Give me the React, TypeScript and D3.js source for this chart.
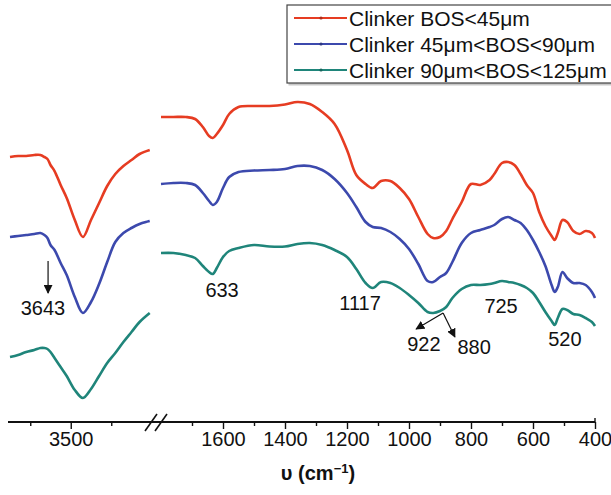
import React, { useEffect, useRef } from 'react';
import * as d3 from 'd3';

// wavenumbers (cm-1) of the two axis segments
const leftWave = [3800, 3760, 3720, 3680, 3650, 3630, 3615, 3600, 3580, 3550, 3520, 3480, 3440, 3400, 3360, 3320, 3280, 3240, 3200, 3160, 3110];
const rightWave = [
  1800, 1760, 1720, 1690, 1665, 1645, 1633, 1620, 1600, 1580, 1550, 1500, 1450, 1400, 1360, 1320, 1280, 1240, 1200,
  1170, 1140, 1117, 1090, 1060, 1030, 1000, 970, 940, 922, 900, 880, 860, 830, 800, 770, 740, 725, 700, 680, 660,
  640, 620, 600, 580, 560, 540, 530, 520, 505, 490, 470, 450, 430, 410, 400,
];

// transmittance, arbitrary units (curves are offset)
const redLeft = [273, 274, 274, 275, 275, 273, 271, 265, 259, 245, 232, 210, 193, 210, 227, 244, 256, 264, 270, 276, 280];
const blueLeft = [193, 194, 195, 196, 197, 195, 192, 185, 180, 167, 155, 133, 117, 128, 146, 168, 188, 197, 202, 206, 209];
const tealLeft = [73, 75, 78, 80, 82, 82, 81, 78, 72, 63, 54, 40, 32, 41, 54, 67, 77, 88, 98, 108, 117];

const redRight = [
  313, 313, 313, 311, 303, 294, 292, 296, 305, 316, 323, 324, 324, 325.5, 328, 326, 318, 306, 280, 255, 246, 242,
  249, 249, 242, 231, 213, 196, 192, 193, 199, 211, 228, 246, 245, 250, 256, 267, 268, 265, 256, 245, 237, 218,
  204, 194, 190, 197, 210, 208, 199, 196, 199, 197, 192,
];
const blueRight = [
  246, 247, 247, 245, 237, 229, 225, 228, 242, 253, 258, 259.5, 260, 261, 264, 264, 260, 251, 237, 223, 208, 203,
  202, 198, 191, 181, 166, 149, 148, 153, 157, 168, 187, 197, 200, 203, 205, 211, 213, 210, 207, 200, 190, 178,
  164, 145, 138, 143, 158, 152, 147, 147, 145, 138, 132,
];
const tealRight = [
  177, 177, 175, 172, 164, 158, 156, 162, 173, 179, 182, 185, 183.5, 183.5, 186, 187, 185, 180, 173, 161, 147, 142,
  148, 147, 142, 135, 127, 118, 117, 119, 123, 132, 141, 145, 145, 146, 147, 149, 148, 147, 145, 142, 137, 128,
  118, 109, 105, 112, 121, 120, 116, 115, 112, 108, 104,
];

const seriesNames = ['Clinker BOS<45\u03bcm', 'Clinker 45\u03bcm<BOS<90\u03bcm', 'Clinker 90\u03bcm<BOS<125\u03bcm'];
const seriesColors = ['#e63c22', '#3c49ad', '#1f857a'];

const leftMajor = [3500];
const leftMinor = [3700, 3300];
const rightMajor = [1600, 1400, 1200, 1000, 800, 600, 400];
const rightMinor = [1700, 1500, 1300, 1100, 900, 700, 500];

// peak labels: text, segment, wavenumber, level
const peakLabels = [
  { text: '3643', side: 'L', w: 3637, t: 115 },
  { text: '633', side: 'R', w: 1603, t: 133 },
  { text: '1117', side: 'R', w: 1158, t: 120 },
  { text: '725', side: 'R', w: 703, t: 117 },
  { text: '922', side: 'R', w: 952, t: 79 },
  { text: '880', side: 'R', w: 790, t: 76 },
  { text: '520', side: 'R', w: 497, t: 84 },
];
const peakArrows = [
  { side: 'L', w0: 3612, t0: 169, w1: 3612, t1: 137 },
  { side: 'R', w0: 890, t0: 117, w1: 977, t1: 101 },
  { side: 'R', w0: 890, t0: 117, w1: 852, t1: 93 },
];

const FONT = '"Liberation Sans", Arial, Helvetica, sans-serif';

const App = () => {
  const svgRef = useRef(null);

  useEffect(() => {
    const svg = d3.select(svgRef.current);
    svg.selectAll('*').remove();

    const axisY = 422;
    const xLeft = d3.scaleLinear().domain([3800, 3100]).range([10, 151.75]);
    const xRight = d3.scaleLinear().domain([1800, 400]).range([161, 595]);
    const y = d3.scaleLinear().domain([0, 330]).range([430, 100]);

    const defs = svg.append('defs');
    defs.append('marker')
      .attr('id', 'arrowhead')
      .attr('viewBox', '0 0 10 10')
      .attr('refX', 9)
      .attr('refY', 5)
      .attr('markerWidth', 9)
      .attr('markerHeight', 9)
      .attr('markerUnits', 'userSpaceOnUse')
      .attr('orient', 'auto')
      .append('path')
      .attr('d', 'M0,0 L10,5 L0,10 Z')
      .attr('fill', '#111');

    // spectra
    const lineL = d3.line().x((d) => xLeft(d[0])).y((d) => y(d[1])).curve(d3.curveCatmullRom.alpha(0.5));
    const lineR = d3.line().x((d) => xRight(d[0])).y((d) => y(d[1])).curve(d3.curveCatmullRom.alpha(0.5));
    const lefts = [redLeft, blueLeft, tealLeft];
    const rights = [redRight, blueRight, tealRight];

    lefts.forEach((vals, i) => {
      svg.append('path')
        .attr('d', lineL(leftWave.map((w, j) => [w, vals[j]])))
        .attr('fill', 'none')
        .attr('stroke', seriesColors[i])
        .attr('stroke-width', 2.6)
        .attr('stroke-linejoin', 'round');
    });
    rights.forEach((vals, i) => {
      svg.append('path')
        .attr('d', lineR(rightWave.map((w, j) => [w, vals[j]])))
        .attr('fill', 'none')
        .attr('stroke', seriesColors[i])
        .attr('stroke-width', 2.6)
        .attr('stroke-linejoin', 'round');
    });

    // axes
    const styleAxis = (g) => {
      g.select('.domain').remove();
      g.selectAll('line').attr('stroke', '#111').attr('stroke-width', 1.4);
      g.selectAll('text').style('font-family', FONT).style('font-size', '20px').attr('fill', '#111');
    };
    svg.append('g').attr('transform', `translate(0,${axisY})`)
      .call(d3.axisBottom(xLeft).tickValues(leftMajor).tickSize(7).tickPadding(3).tickFormat(d3.format('d')))
      .call(styleAxis);
    svg.append('g').attr('transform', `translate(0,${axisY})`)
      .call(d3.axisBottom(xLeft).tickValues(leftMinor).tickSize(4).tickFormat(() => ''))
      .call(styleAxis);
    svg.append('g').attr('transform', `translate(0,${axisY})`)
      .call(d3.axisBottom(xRight).tickValues(rightMajor).tickSize(7).tickPadding(3).tickFormat(d3.format('d')))
      .call(styleAxis);
    svg.append('g').attr('transform', `translate(0,${axisY})`)
      .call(d3.axisBottom(xRight).tickValues(rightMinor).tickSize(4).tickFormat(() => ''))
      .call(styleAxis);

    svg.append('line')
      .attr('x1', 8).attr('x2', xRight(400))
      .attr('y1', axisY).attr('y2', axisY)
      .attr('stroke', '#111').attr('stroke-width', 1.8);
    svg.append('line')
      .attr('x1', xRight(400)).attr('x2', xRight(400))
      .attr('y1', axisY - 4).attr('y2', axisY)
      .attr('stroke', '#111').attr('stroke-width', 1.4);

    // axis break
    [0, 10].forEach((dx) => {
      svg.append('line')
        .attr('x1', 145 + dx).attr('y1', axisY + 9)
        .attr('x2', 157 + dx).attr('y2', axisY - 8)
        .attr('stroke', '#111').attr('stroke-width', 1.6);
    });

    // axis title
    const title = svg.append('text')
      .attr('x', 318).attr('y', 480)
      .attr('text-anchor', 'middle')
      .style('font-family', FONT).style('font-size', '20px').style('font-weight', 'bold')
      .attr('fill', '#111');
    title.append('tspan').text('\u03c5 (cm');
    title.append('tspan').attr('dy', -7).style('font-size', '13px').text('\u22121');
    title.append('tspan').attr('dy', 7).text(')');

    // peak labels and arrows
    const px = (side, w) => (side === 'L' ? xLeft(w) : xRight(w));
    peakArrows.forEach((a) => {
      svg.append('line')
        .attr('x1', px(a.side, a.w0)).attr('y1', y(a.t0))
        .attr('x2', px(a.side, a.w1)).attr('y2', y(a.t1))
        .attr('stroke', '#111').attr('stroke-width', 1.2)
        .attr('marker-end', 'url(#arrowhead)');
    });
    peakLabels.forEach((p) => {
      svg.append('text')
        .attr('x', px(p.side, p.w)).attr('y', y(p.t))
        .attr('text-anchor', 'middle')
        .style('font-family', FONT).style('font-size', '20px')
        .attr('fill', '#111')
        .text(p.text);
    });

    // legend
    const lg = svg.append('g').attr('transform', 'translate(287,5)');
    lg.append('rect')
      .attr('x', 1.5).attr('y', 1.5).attr('width', 330).attr('height', 79)
      .attr('fill', '#c8c8c8');
    lg.append('rect')
      .attr('x', 0).attr('y', 0).attr('width', 330).attr('height', 78)
      .attr('fill', '#fff').attr('stroke', '#444').attr('stroke-width', 1.2);
    seriesNames.forEach((name, i) => {
      const ry = 13 + i * 26;
      lg.append('line')
        .attr('x1', 7).attr('x2', 60).attr('y1', ry).attr('y2', ry)
        .attr('stroke', seriesColors[i]).attr('stroke-width', 2.2);
      lg.append('circle')
        .attr('cx', 34).attr('cy', ry).attr('r', 1.6)
        .attr('fill', d3.color(seriesColors[i]).darker(0.8));
      lg.append('text')
        .attr('x', 62).attr('y', ry + 7.5)
        .style('font-family', FONT).style('font-size', '21px')
        .attr('fill', '#111')
        .text(name);
    });
  }, []);

  return (
    <svg
      ref={svgRef}
      width={611}
      height={495}
      style={{ position: 'absolute', left: 0, top: 0, background: '#fff' }}
    />
  );
};

export default App;
